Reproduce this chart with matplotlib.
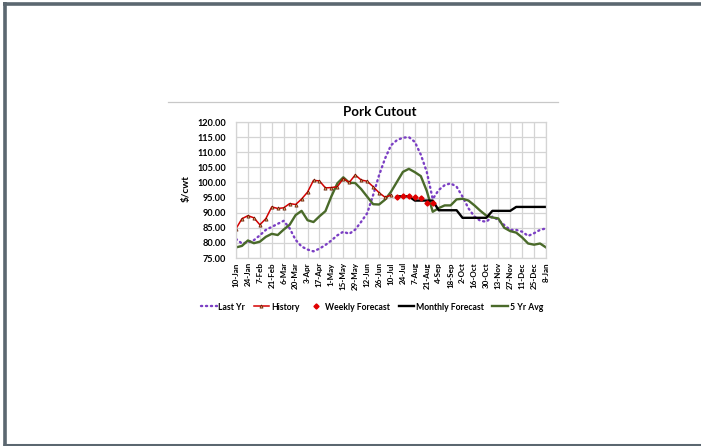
import numpy as np
import matplotlib
matplotlib.use("Agg")
import matplotlib.pyplot as plt
from matplotlib.lines import Line2D

plt.rcParams['font.family'] = ['Lato', 'DejaVu Sans']
plt.rcParams['font.weight'] = 'bold'

# Bi-weekly tick labels (weekly categories, every 2nd labelled)
tick_labels = ["10-Jan", "24-Jan", "7-Feb", "21-Feb", "6-Mar", "20-Mar", "3-Apr",
               "17-Apr", "1-May", "15-May", "29-May", "12-Jun", "26-Jun", "10-Jul",
               "24-Jul", "7-Aug", "21-Aug", "4-Sep", "18-Sep", "2-Oct", "16-Oct",
               "30-Oct", "13-Nov", "27-Nov", "11-Dec", "25-Dec", "8-Jan"]

# Weekly series, $/cwt (53 weeks)
last_yr = [81.3, 79.8, 80.2, 80.9, 82.5, 84.3, 85.3, 86.3, 87.3, 84.8,
           81.0, 78.8, 77.8, 77.2, 78.1, 79.3, 80.8, 82.5, 83.7, 83.0,
           84.4, 87.0, 89.8, 95.8, 102.4, 107.9, 112.3, 114.0, 114.8, 115.0,
           113.4, 109.2, 103.5, 94.5, 97.5, 99.1, 99.7, 98.6, 95.3, 91.4,
           88.7, 87.3, 87.0, 88.7, 87.6, 85.9, 84.3, 84.3, 83.7, 82.3,
           83.2, 84.3, 84.8]

history = [84.7, 88.0, 89.0, 88.3, 86.0, 88.0, 91.9, 91.4, 91.6, 93.0,
           92.7, 94.5, 96.8, 100.7, 100.5, 98.2, 98.3, 98.6, 101.3, 100.0,
           102.5, 100.8, 100.4, 98.6, 96.6, 95.1, 95.8]

weekly_forecast_start = 27
weekly_forecast = [95.3, 95.5, 95.4, 95.2, 94.7, 93.1, 93.2]

monthly_forecast_start = 27
monthly_forecast = [95.4, 95.4, 95.4,
                    94.0, 94.0, 94.0, 94.0,
                    90.8, 90.8, 90.8, 90.8,
                    88.3, 88.3, 88.3, 88.3, 88.3,
                    90.6, 90.6, 90.6, 90.6,
                    91.9, 91.9, 91.9, 91.9, 91.9, 91.9]

five_yr_avg = [78.5, 79.0, 80.8, 79.9, 80.4, 82.0, 83.0, 82.6, 84.4, 86.0,
               89.2, 90.6, 87.5, 86.9, 88.8, 90.5, 95.4, 99.7, 101.7, 99.9,
               99.8, 97.8, 95.3, 92.8, 92.7, 94.3, 96.9, 100.2, 103.5, 104.5,
               103.4, 102.1, 97.2, 90.3, 91.5, 92.4, 92.4, 94.4, 94.6, 94.0,
               92.4, 90.6, 89.0, 88.4, 88.1, 85.0, 83.9, 83.4, 81.8, 79.8,
               79.4, 79.8, 78.5]

n_weeks = len(last_yr)
weeks = np.arange(n_weeks)

fig = plt.figure(figsize=(7.01, 4.46), dpi=100)
fig.patch.set_facecolor('white')

# Frame around the page
frame_col = '#5b6770'
fig.add_artist(Line2D([3 / 701, 1], [1 - 3.5 / 446] * 2, color=frame_col, lw=2.6,
                      transform=fig.transFigure, solid_capstyle='butt'))
fig.add_artist(Line2D([4.5 / 701] * 2, [0, 1 - 2 / 446], color=frame_col, lw=2.6,
                      transform=fig.transFigure, solid_capstyle='butt'))
fig.add_artist(Line2D([3 / 701, 1], [1.2 / 446] * 2, color=frame_col, lw=2.2,
                      transform=fig.transFigure, solid_capstyle='butt'))
# Separator above the chart
fig.add_artist(Line2D([168 / 701, 558 / 701], [1 - 102 / 446] * 2, color='#c8c8c8',
                      lw=0.9, transform=fig.transFigure))

ax = fig.add_axes([236 / 701, 1 - 258 / 446, 310 / 701, 136 / 446])
ax.set_xlim(0, n_weeks - 1)
ax.set_ylim(75, 120)

grid_col = '#d4d4d4'
ax.set_yticks(np.arange(75, 121, 5))
ax.set_yticklabels([f"{v:.2f}" for v in np.arange(75, 121, 5)], fontsize=6.6,
                   fontweight='bold')
ax.set_xticks(weeks[::2])
ax.set_xticklabels(tick_labels, rotation=90, fontsize=5.8, fontweight='bold')
ax.tick_params(axis='y', length=0, pad=7)
ax.tick_params(axis='x', length=0, pad=3)
ax.grid(True, color=grid_col, lw=0.9)
ax.set_axisbelow(True)
for s in ax.spines.values():
    s.set_color(grid_col)
    s.set_linewidth(0.9)

ax.plot(weeks, last_yr, color='#7b3fc4', lw=1.7, linestyle=(0, (0.5, 1.6)),
        dash_capstyle='round', label='Last Yr')
ax.plot(weeks, five_yr_avg, color='#4a6a2a', lw=1.7, label='5 Yr Avg')
ax.plot(weeks[monthly_forecast_start:monthly_forecast_start + len(monthly_forecast)],
        monthly_forecast, color='black', lw=1.7, label='Monthly Forecast')
ax.plot(weeks[:len(history)], history, color='#d40000', lw=1.1, marker='^',
        markersize=2.3, markerfacecolor='#e8a060', markeredgecolor='#5a1500',
        markeredgewidth=0.5, label='History')
ax.plot(weeks[weekly_forecast_start:weekly_forecast_start + len(weekly_forecast)],
        weekly_forecast, linestyle='none', marker='D', markersize=2.6,
        color='#e00000', label='Weekly Forecast')

fig.text(380 / 701, 1 - 112 / 446, 'Pork Cutout', ha='center', va='center',
         fontsize=9.6, fontweight='bold')
fig.text(186 / 701, 1 - 189 / 446, '$/cwt', ha='center', va='center', rotation=90,
         fontsize=7.2, fontweight='bold')

handles = [
    Line2D([], [], color='#7b3fc4', lw=1.7, linestyle=(0, (0.5, 1.6)),
           dash_capstyle='round'),
    Line2D([], [], color='#d40000', lw=1.1, marker='^', markersize=2.3,
           markerfacecolor='#e8a060', markeredgecolor='#5a1500', markeredgewidth=0.5),
    Line2D([], [], linestyle='none', marker='D', markersize=2.6, color='#e00000'),
    Line2D([], [], color='black', lw=1.7),
    Line2D([], [], color='#4a6a2a', lw=1.7),
]
labels = ['Last Yr', 'History', 'Weekly Forecast', 'Monthly Forecast', '5 Yr Avg']
fig.legend(handles, labels, loc='center', bbox_to_anchor=(372 / 701, 1 - 307 / 446),
           ncol=5, frameon=False, handlelength=1.8, handletextpad=0.2,
           columnspacing=1.0, prop={'weight': 'bold', 'size': 6.2})

fig.savefig('out.png', dpi=100, facecolor='white')
